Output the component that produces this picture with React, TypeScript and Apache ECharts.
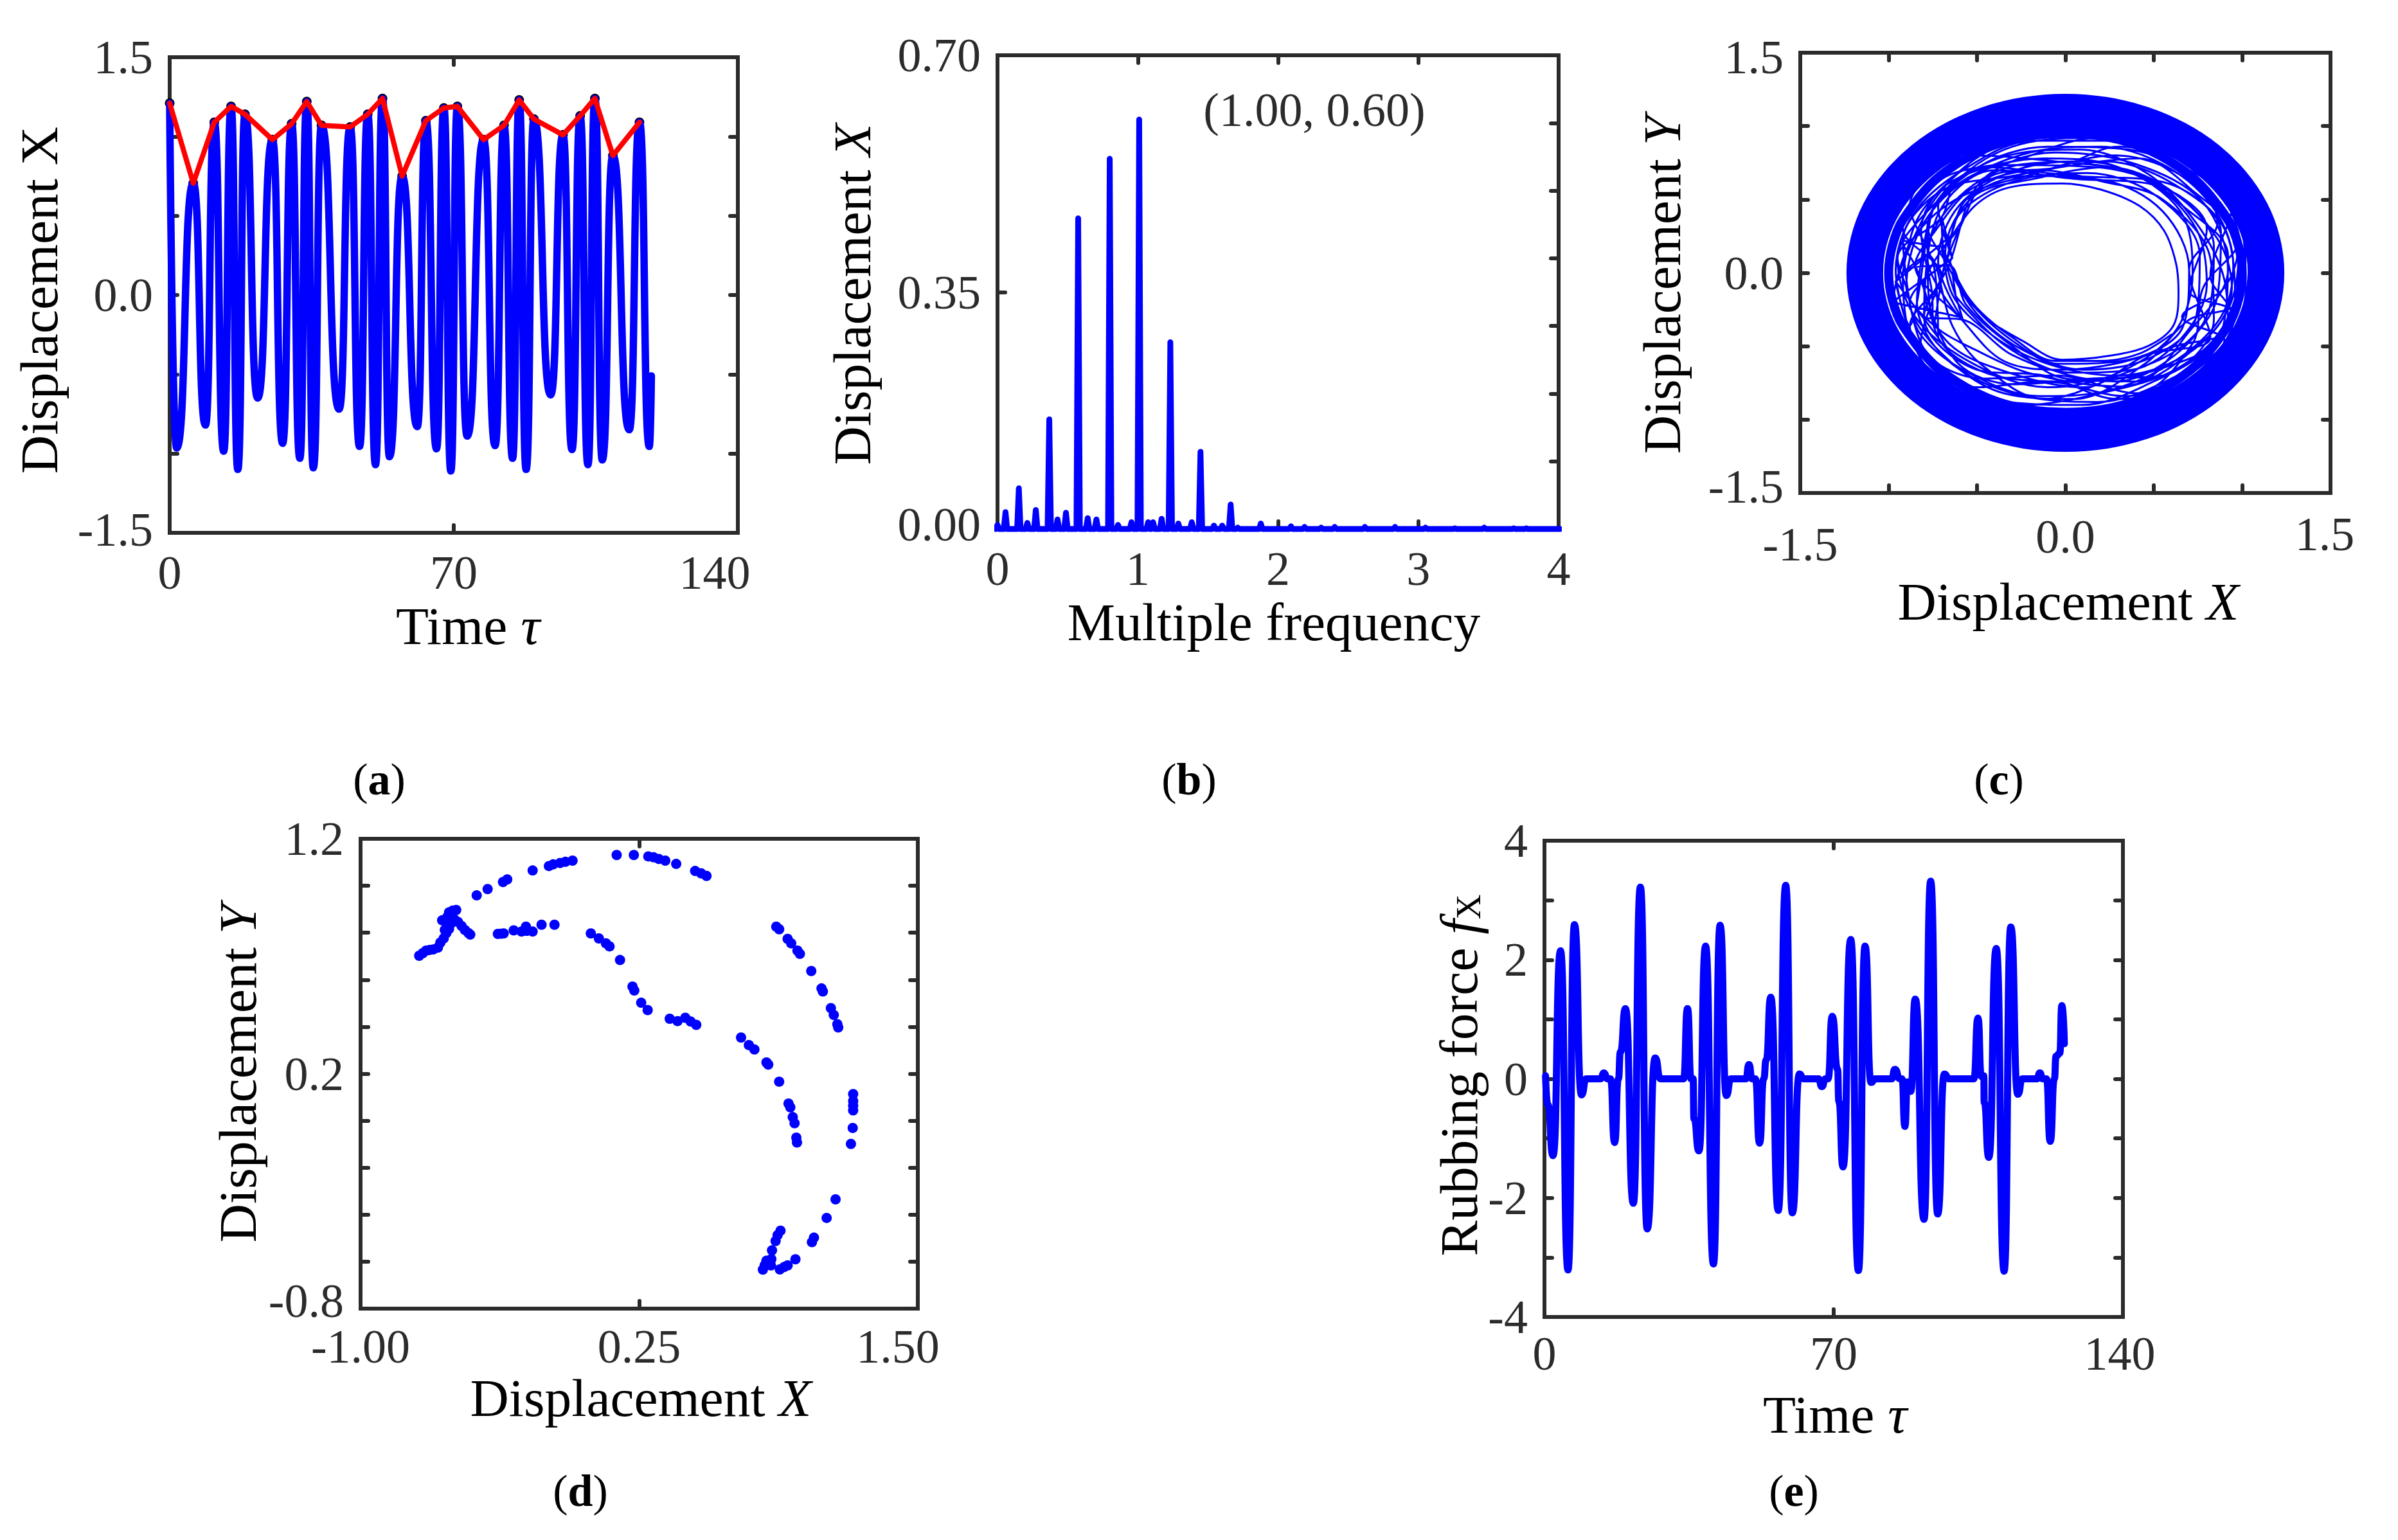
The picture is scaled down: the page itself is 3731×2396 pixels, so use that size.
import { useEffect, useRef } from 'react'
import * as echarts from 'echarts'

const SERIF = '"Liberation Serif", serif'
const INK = '#2b2b2b'
const BLUE = '#0000ff'

// (a) time history
const timeA = [0, 1.71, 5.81, 8.81, 10.99, 13.31, 15.13, 16.79, 18.55, 21.68, 25.31, 27.83, 30.05, 32.07, 33.78, 35.39, 37.41, 41.75, 44.47, 46.79, 48.8, 50.72, 52.44, 54.15, 57.28, 61.01, 63.13, 65.75, 67.56, 69.28, 70.89, 73.31, 77.34, 80.17, 82.39, 84.5, 86.12, 87.83, 89.75, 93.88, 96.91, 99.13, 101.14, 103.06, 104.77, 106.59, 109.21, 113.24, 115.76, 118.18, 118.69]
const dispA = [1.21, -0.965, 0.705, -0.82, 1.09, -0.985, 1.19, -1.1, 1.14, -0.65, 0.98, -0.935, 1.08, -1.03, 1.22, -1.09, 1.07, -0.72, 1.06, -0.955, 1.14, -1.07, 1.24, -1.02, 0.75, -0.83, 1.1, -0.97, 1.18, -1.11, 1.19, -0.89, 0.98, -0.95, 1.07, -1.03, 1.23, -1.1, 1.11, -0.63, 1.01, -0.975, 1.13, -1.07, 1.24, -1.04, 0.88, -0.85, 1.09, -0.955, -0.51]
const peakTimeA = [0, 5.81, 10.99, 15.13, 18.55, 25.31, 30.05, 33.78, 37.41, 44.47, 48.8, 52.44, 57.28, 63.13, 67.56, 70.89, 77.34, 82.39, 86.12, 89.75, 96.91, 101.14, 104.77, 109.21, 115.76]
const peakDispA = [1.21, 0.705, 1.09, 1.19, 1.14, 0.98, 1.08, 1.22, 1.07, 1.06, 1.14, 1.24, 0.75, 1.1, 1.18, 1.19, 0.98, 1.07, 1.23, 1.11, 1.01, 1.13, 1.24, 0.88, 1.09]

// (b) spectrum peaks
const peakFreqB = [0.0, 0.057, 0.152, 0.213, 0.273, 0.369, 0.428, 0.488, 0.575, 0.643, 0.705, 0.8, 0.859, 0.955, 1.01, 1.074, 1.109, 1.17, 1.232, 1.289, 1.385, 1.447, 1.543, 1.602, 1.662, 1.713, 1.877, 2.092, 2.189, 2.307, 2.404, 2.619, 2.834, 3.051, 3.26, 3.47, 3.68, 3.77, 4.0]
const peakAmpB = [0.006, 0.025, 0.06, 0.009, 0.028, 0.162, 0.014, 0.024, 0.459, 0.016, 0.014, 0.547, 0.006, 0.01, 0.605, 0.01, 0.01, 0.015, 0.276, 0.008, 0.01, 0.114, 0.005, 0.005, 0.036, 0.002, 0.008, 0.004, 0.003, 0.002, 0.003, 0.003, 0.003, 0.002, 0.001, 0.002, 0.001, 0.001, 0.0]

// (c) orbit, a heavy outer band and the strands read inside it
const orbitBand = [[1.049, -0.419], [1.113, -0.214], [1.135, 0], [1.113, 0.214], [1.049, 0.419], [0.943, 0.609], [0.803, 0.774], [0.631, 0.91], [0.434, 1.012], [0.221, 1.074], [0, 1.095], [-0.221, 1.074], [-0.434, 1.012], [-0.631, 0.91], [-0.803, 0.774], [-0.943, 0.609], [-1.049, 0.419], [-1.113, 0.214], [-1.135, 0], [-1.113, -0.214], [-1.049, -0.419], [-0.943, -0.609], [-0.803, -0.774], [-0.631, -0.91], [-0.434, -1.012], [-0.221, -1.074], [0, -1.095], [0.221, -1.074], [0.434, -1.012], [0.631, -0.91], [0.803, -0.774], [0.943, -0.609], [1.049, -0.419], [1.113, -0.214], [1.135, 0]]
const orbitBandInner = [[0.92, -0.36], [0.98, -0.18], [1.0, 0], [0.98, 0.18], [0.92, 0.36], [0.71, 0.66], [0.38, 0.88], [0, 0.95], [-0.38, 0.88], [-0.71, 0.66], [-0.92, 0.36], [-0.98, 0.18], [-1.0, 0], [-0.98, -0.18], [-0.92, -0.36], [-0.71, -0.66], [-0.38, -0.88], [0, -0.95], [0.38, -0.88], [0.71, -0.66], [0.92, -0.36], [0.98, -0.18], [1.0, 0]]
const orbitPath = [
  [-0.665, 0.204], [-0.514, 0.455], [-0.321, 0.581], [-0.019, 0.609], [0.201, 0.567], [0.42, 0.455], [0.558, 0.288], [0.626, 0.064], [0.64, -0.131], [0.613, -0.355], [0.475, -0.494], [0.255, -0.564], [-0.019, -0.592], [-0.239, -0.466], [-0.459, -0.299], [-0.596, -0.103], [-0.665, 0.092],
  [-0.747, -0.355], [-0.755, -0.13], [-0.816, 0.288], [-0.679, 0.595], [-0.294, 0.735], [0.173, 0.72], [0.585, 0.567], [0.86, 0.232], [0.942, -0.103], [0.805, -0.439], [0.31, -0.774], [-0.184, -0.69], [-0.514, -0.522], [-0.747, -0.355],
  [-0.9, -0.1], [-0.82, 0.3], [-0.58, 0.62], [-0.2, 0.82], [0.2, 0.86], [0.58, 0.72], [0.85, 0.42], [0.95, 0.05], [0.88, -0.3], [0.62, -0.6], [0.25, -0.8], [-0.15, -0.84], [-0.55, -0.68], [-0.82, -0.42], [-0.9, -0.1],
  [-0.95, 0.1], [-0.78, 0.42], [-0.5, 0.68], [-0.12, 0.78], [0.3, 0.72], [0.65, 0.42], [0.72, 0.0], [0.62, -0.4], [0.3, -0.68], [-0.1, -0.78], [-0.52, -0.62], [-0.85, -0.3], [-0.95, 0.1],
  [-0.7, 0.38], [-0.62, 0.62], [-0.3, 0.86], [0.12, 0.92], [0.52, 0.8], [0.82, 0.5], [0.98, 0.15], [0.92, -0.25], [0.68, -0.56], [0.3, -0.7], [-0.1, -0.62], [-0.42, -0.42], [-0.65, -0.12], [-0.7, 0.38],
  [-0.64, 0.1], [-0.72, 0.45], [-0.45, 0.72], [0.05, 0.66], [0.55, 0.62], [0.9, 0.3], [0.96, -0.2], [0.7, -0.32], [0.45, -0.62], [0.05, -0.86], [-0.35, -0.82], [-0.7, -0.55], [-0.88, -0.2], [-0.64, 0.1],
  [-0.98, -0.2], [-0.88, 0.2], [-0.62, 0.5], [-0.22, 0.66], [0.28, 0.8], [0.66, 0.66], [0.92, 0.32], [1.0, -0.1], [0.82, -0.5], [0.5, -0.74], [0.1, -0.9], [-0.32, -0.88], [-0.72, -0.68], [-0.98, -0.2],
  [-0.6, -0.3], [-0.78, 0.1], [-0.72, 0.5], [-0.38, 0.78], [0.08, 0.84], [0.46, 0.68], [0.74, 0.34], [0.9, -0.05], [0.92, -0.38], [0.62, -0.5], [0.28, -0.62], [-0.02, -0.66], [-0.35, -0.6], [-0.6, -0.3],
  [-0.85, 0.05], [-0.74, 0.28], [-0.52, 0.58], [-0.15, 0.7], [0.22, 0.62], [0.55, 0.5], [0.82, 0.1], [0.84, -0.32], [0.55, -0.7], [0.15, -0.72], [-0.28, -0.76], [-0.62, -0.6], [-0.85, 0.05],
  [-0.92, 0.22], [-0.7, 0.56], [-0.3, 0.66], [0.08, 0.74], [0.42, 0.78], [0.72, 0.56], [0.98, 0.22], [0.78, -0.1], [0.72, -0.48], [0.4, -0.82], [-0.05, -0.7], [-0.46, -0.72], [-0.8, -0.52], [-0.92, 0.22],
  [-0.7, 0.18], [-0.56, 0.5], [-0.22, 0.66], [0.22, 0.63], [0.55, 0.42], [0.7, 0.02], [0.66, -0.38], [0.32, -0.6], [-0.04, -0.62], [-0.28, -0.48], [-0.52, -0.22], [-0.7, 0.18],
  [-0.68, 0.08], [-0.6, 0.4], [-0.3, 0.62], [0.12, 0.68], [0.52, 0.52], [0.76, 0.12], [0.74, -0.3], [0.48, -0.58], [0.1, -0.66], [-0.25, -0.52], [-0.5, -0.28], [-0.68, 0.08],
  [-0.78, 0.32], [-0.52, 0.7], [-0.1, 0.86], [0.36, 0.84], [0.76, 0.62], [0.98, 0.2], [0.9, -0.1], [0.66, -0.3], [0.9, -0.46], [0.6, -0.72], [0.18, -0.88], [-0.3, -0.82], [-0.68, -0.58], [-0.84, -0.2], [-0.78, 0.32],
  [-0.88, -0.36], [-0.96, 0.02], [-0.86, 0.4], [-0.58, 0.7], [-0.18, 0.9], [0.26, 0.9], [0.64, 0.78], [0.9, 0.5], [1.0, 0.08], [0.9, -0.36], [0.62, -0.66], [0.2, -0.82], [-0.24, -0.9], [-0.62, -0.76], [-0.88, -0.36],
  [-0.7, -0.02], [-0.92, 0.3], [-0.7, 0.64], [-0.3, 0.76], [0.18, 0.92], [0.6, 0.76], [0.94, 0.44], [0.82, -0.02], [0.94, -0.28], [0.72, -0.66], [0.34, -0.84], [-0.12, -0.74], [-0.5, -0.78], [-0.82, -0.5], [-0.7, -0.02],
  [-0.6, 0.3], [-0.42, 0.66], [-0.04, 0.72], [0.3, 0.86], [0.7, 0.7], [0.86, 0.34], [0.7, 0.02], [0.82, -0.44], [0.46, -0.56], [0.1, -0.78], [-0.32, -0.68], [-0.66, -0.48], [-0.8, -0.1], [-0.6, 0.3],
  [-0.96, -0.06], [-0.74, 0.5], [-0.42, 0.84], [0.02, 0.96], [0.46, 0.9], [0.8, 0.66], [1.0, 0.3], [1.02, -0.12], [0.84, -0.56], [0.46, -0.82], [0, -0.96], [-0.46, -0.9], [-0.8, -0.62], [-0.96, -0.06],
  [-0.72, -0.44], [-0.74, 0.02], [-0.88, 0.46], [-0.52, 0.8], [-0.06, 0.76], [0.4, 0.68], [0.66, 0.46], [0.92, 0.12], [0.88, -0.42], [0.52, -0.66], [0.08, -0.74], [-0.32, -0.72], [-0.72, -0.44],
  [-0.78, 0.12], [-0.6, 0.52], [-0.24, 0.74], [0.22, 0.76], [0.62, 0.6], [0.88, 0.28], [0.86, -0.16], [0.66, -0.5], [0.3, -0.7], [-0.12, -0.86], [-0.48, -0.62], [-0.64, -0.36], [-0.78, 0.12],
  [-0.92, 0.0], [-0.84, 0.36], [-0.66, 0.62], [-0.32, 0.92], [0.14, 0.98], [0.56, 0.86], [0.86, 0.6], [1.02, 0.14], [0.96, -0.3], [0.74, -0.62], [0.36, -0.92], [-0.12, -0.94], [-0.54, -0.84], [-0.86, -0.48], [-0.92, 0],
  [-0.66, 0.05], [-0.56, -0.22], [-0.3, -0.5], [0.0, -0.72], [0.4, -0.74], [0.7, -0.4], [0.92, 0.02], [0.78, 0.48], [0.4, 0.74], [-0.06, 0.82], [-0.48, 0.62], [-0.66, 0.05],
  [-0.8, -0.3], [-0.5, -0.66], [-0.12, -0.7], [0.3, -0.86], [0.72, -0.72], [0.96, -0.28], [0.7, -0.12], [0.8, 0.3], [0.5, 0.6], [0.05, 0.64], [-0.4, 0.7], [-0.72, 0.4], [-0.8, -0.3],
  [-0.58, -0.32], [-0.3, -0.56], [0.04, -0.68], [0.38, -0.66], [0.66, -0.44], [0.8, -0.08], [0.74, 0.3], [0.48, 0.62], [0.1, 0.76], [-0.28, 0.7], [-0.6, 0.46], [-0.72, 0.08], [-0.58, -0.32],
  [-0.62, -0.16], [-0.38, -0.46], [-0.08, -0.66], [0.28, -0.74], [0.62, -0.56], [0.82, -0.22], [0.84, 0.18], [0.62, 0.54], [0.24, 0.72], [-0.18, 0.64], [-0.52, 0.52], [-0.68, 0.14], [-0.62, -0.16],
  [-0.64, 0.0], [-0.5, -0.24], [-0.3, -0.44], [-0.06, -0.6], [0.2, -0.6], [0.42, -0.55], [0.6, -0.42],
]

// (d) Poincare points
const poincareX = [-0.737, -0.721, -0.706, -0.69, -0.674, -0.653, -0.642, -0.627, -0.615, -0.603, -0.622, -0.619, -0.634, -0.611, -0.603, -0.587, -0.571, -0.595, -0.579, -0.563, -0.547, -0.532, -0.516, -0.508, -0.479, -0.43, -0.361, -0.342, -0.228, -0.155, -0.136, -0.105, -0.081, -0.049, 0.149, 0.226, 0.291, 0.315, 0.338, 0.367, 0.416, 0.501, 0.528, 0.552, -0.384, -0.369, -0.358, -0.313, -0.278, -0.258, -0.255, -0.228, -0.188, -0.13, 0.033, 0.069, 0.101, 0.117, 0.164, 0.22, 0.228, 0.259, 0.288, 0.387, 0.422, 0.457, 0.481, 0.506, 0.707, 0.742, 0.767, 0.821, 0.829, 0.878, 0.92, 0.928, 0.939, 0.947, 0.955, 0.958, 0.865, 0.878, 0.916, 0.932, 0.96, 0.971, 1.022, 1.068, 1.074, 1.11, 1.123, 1.139, 1.143, 1.21, 1.21, 1.21, 1.21, 1.208, 1.2, 1.131, 1.091, 1.034, 1.025, 0.951, 0.884, 0.871, 0.862, 0.846, 0.843, 0.841, 0.821, 0.813, 0.805, 0.881, 0.9, 0.916]
const poincareY = [0.702, 0.713, 0.724, 0.727, 0.729, 0.737, 0.758, 0.776, 0.799, 0.816, 0.812, 0.846, 0.853, 0.867, 0.887, 0.894, 0.897, 0.839, 0.857, 0.846, 0.829, 0.812, 0.799, 0.792, 0.959, 0.986, 1.016, 1.027, 1.065, 1.084, 1.091, 1.097, 1.102, 1.107, 1.131, 1.131, 1.125, 1.121, 1.114, 1.107, 1.093, 1.063, 1.053, 1.042, 0.795, 0.796, 0.797, 0.81, 0.805, 0.826, 0.808, 0.805, 0.834, 0.834, 0.797, 0.776, 0.755, 0.742, 0.684, 0.571, 0.554, 0.502, 0.471, 0.434, 0.424, 0.438, 0.422, 0.408, 0.354, 0.322, 0.303, 0.248, 0.239, 0.166, 0.073, 0.057, 0.015, -0.011, -0.072, -0.093, 0.826, 0.815, 0.774, 0.755, 0.724, 0.71, 0.637, 0.563, 0.55, 0.479, 0.45, 0.411, 0.397, 0.113, 0.084, 0.064, 0.044, -0.031, -0.099, -0.335, -0.414, -0.498, -0.517, -0.59, -0.468, -0.487, -0.512, -0.552, -0.589, -0.616, -0.596, -0.616, -0.634, -0.633, -0.623, -0.616]

// (e) rubbing force
const timeE = [0.26, 0.8, 2.07, 3.89, 5.7, 7.26, 8.96, 10.11, 13.57, 14.37, 15.28, 15.98, 16.98, 17.89, 18.39, 19.6, 21.51, 23.22, 24.87, 26.79, 28.09, 33.67, 34.62, 35.48, 35.98, 36.18, 37.39, 38.99, 40.9, 42.51, 44.02, 45.12, 48.74, 49.5, 50.25, 51.05, 52.06, 53.06, 53.67, 54.77, 56.58, 58.39, 59.99, 61.71, 62.71, 66.33, 67.13, 68.04, 68.64, 69.65, 70.95, 71.25, 72.26, 74.12, 75.98, 77.59, 79.04, 80.1, 84.02, 84.82, 86.03, 86.53, 87.23, 87.84, 88.64, 89.75, 91.86, 93.47, 95.17, 96.78, 97.99, 103.92, 104.92, 105.73, 106.33, 106.43, 107.54, 109.34, 111.25, 112.86, 114.57, 115.68, 119.19, 119.9, 120.6, 121.5, 122.41, 123.41, 123.82, 124.72, 125.22, 125.83]
const forceE = [0.05, -0.43, -1.29, 2.15, -3.21, 2.59, -0.27, 0, 0, 0.1, 0, 0, -1.07, 0, 0.45, 1.18, -2.09, 3.22, -2.52, 0.35, 0, 0, 1.18, 0, 0, -0.67, -1.21, 2.23, -3.11, 2.58, -0.28, 0, 0, 0.24, 0, 0, -1.08, 0, 0.32, 1.37, -2.21, 3.25, -2.25, 0.08, 0, 0, -0.13, 0, 0, 1.05, 0.16, -0.38, -1.48, 2.34, -3.22, 2.23, -0.06, 0, 0, 0.16, 0, 0, -0.8, -0.05, -0.21, 1.34, -2.36, 3.32, -2.27, 0.08, 0, 0, 1.02, 0.04, 0.05, -0.4, -1.32, 2.19, -3.23, 2.55, -0.26, 0, 0, 0.1, 0, 0, -1.05, 0, 0.38, 0.43, 1.23, 0.59]

const labelsA = { x: ['0', '70', '140'], y: ['-1.5', '0.0', '1.5'] }
const labelsB = { x: ['0', '1', '2', '3', '4'], y: ['0.00', '0.35', '0.70'] }
const labelsC = { x: ['-1.5', '0.0', '1.5'], y: ['-1.5', '0.0', '1.5'] }
const labelsD = { x: ['-1.00', '0.25', '1.50'], y: ['-0.8', '0.2', '1.2'] }
const labelsE = { x: ['0', '70', '140'], y: ['-4', '-2', '0', '2', '4'] }

const pairs = (xs: number[], ys: number[]) => xs.map((x, i) => [x, ys[i]])

// spikes of the spectrum, each one standing on the baseline
const spectrumB = peakFreqB.flatMap((f, i) => [[f - 0.012, 0], [f, peakAmpB[i]], [f + 0.012, 0]])

interface AxisSpec {
  min: number
  max: number
  interval: number
  mirror?: number
  labels: string[]
  margin?: number
  nudge?: Record<string, [number, number]> // label moved by [dx, dy], the source figure does not centre them all
}

function makeAxes(gridIndex: number, dim: 'x' | 'y', a: AxisSpec) {
  const frame = { show: true, onZero: false, lineStyle: { color: INK, width: 6, cap: 'square' } }
  const tickStyle = { show: true, inside: true, length: 12, lineStyle: { color: INK, width: 6, cap: 'round' } }
  const font = { color: INK, fontFamily: SERIF, fontSize: 74 }
  const digits = (a.labels[1].split('.')[1] || '').length
  const rich: Record<string, any> = {}
  a.labels.forEach((l, i) => {
    const n = a.nudge?.[l]
    if (!n) return
    rich['n' + i] = { ...font, padding: [n[1] > 0 ? n[1] * 2 : 0, n[0] < 0 ? -n[0] * 2 : 0, n[1] < 0 ? -n[1] * 2 : 0, n[0] > 0 ? n[0] * 2 : 0] }
  })
  return [
    {
      type: 'value',
      gridIndex,
      position: dim === 'x' ? 'bottom' : 'left',
      min: a.min,
      max: a.max,
      interval: a.interval,
      splitLine: { show: false },
      axisLine: frame,
      axisTick: tickStyle,
      axisLabel: {
        ...font,
        margin: a.margin ?? (dim === 'x' ? 20 : 26),
        hideOverlap: false,
        rich,
        formatter: (v: number) => {
          const s = v.toFixed(digits)
          const i = a.labels.indexOf(s)
          if (i < 0) return ''
          return rich['n' + i] ? `{n${i}|${s}}` : s
        },
      },
    },
    {
      type: 'value',
      gridIndex,
      position: dim === 'x' ? 'top' : 'right',
      min: a.min,
      max: a.max,
      interval: a.mirror ?? a.interval,
      splitLine: { show: false },
      axisLine: frame,
      axisTick: tickStyle,
      axisLabel: { show: false },
    },
  ]
}

const nameRich = {
  r: { fontFamily: SERIF, fontSize: 83.5, color: '#1c1c1c' },
  i: { fontFamily: SERIF, fontSize: 83.5, fontStyle: 'italic', color: '#1c1c1c' },
  s: { fontFamily: SERIF, fontSize: 54, color: '#1c1c1c', verticalAlign: 'bottom' },
  b: { fontFamily: SERIF, fontSize: 70, fontWeight: 'bold', color: '#1c1c1c' },
  p: { fontFamily: SERIF, fontSize: 70, color: '#1c1c1c' },
}

const nameText = (text: string, x: number, y: number, vertical = false) => ({
  type: 'text',
  x,
  y,
  rotation: vertical ? Math.PI / 2 : 0,
  style: { text, rich: nameRich, align: 'center', verticalAlign: 'middle' },
})

const line = (xAxisIndex: number, yAxisIndex: number, data: number[][], width: number, color = BLUE, smooth: any = false) => ({
  type: 'line',
  xAxisIndex,
  yAxisIndex,
  data,
  symbol: 'none',
  clip: false,
  smooth,
  lineStyle: { color, width, cap: 'round', join: 'round' },
})

export default function App() {
  const elRef = useRef<HTMLDivElement>(null)

  useEffect(() => {
    if (!elRef.current) return
    const chart = echarts.init(elRef.current, undefined, { renderer: 'svg' })
    chart.setOption({
      animation: false,
      backgroundColor: '#ffffff',
      grid: [
        { left: 264, top: 89, width: 884, height: 740 },
        { left: 1552, top: 86, width: 873, height: 737 },
        { left: 2801, top: 82, width: 825, height: 685 },
        { left: 561, top: 1305, width: 867, height: 731 },
        { left: 2403, top: 1308, width: 900, height: 741 },
      ],
      xAxis: [
        ...makeAxes(0, 'x', { min: 0, max: 140, interval: 70, labels: labelsA.x, margin: 25, nudge: { '140': [-36, 0] } }),
        ...makeAxes(1, 'x', { min: 0, max: 4, interval: 1, labels: labelsB.x, margin: 25 }),
        ...makeAxes(2, 'x', { min: -1.5, max: 1.5, interval: 0.5, labels: labelsC.x, margin: 27, nudge: { '-1.5': [0, 8], '0.0': [0, 2], '1.5': [-9, 0] } }),
        ...makeAxes(3, 'x', { min: -1, max: 1.5, interval: 1.25, labels: labelsD.x, margin: 22, nudge: { '1.50': [-31, 0] } }),
        ...makeAxes(4, 'x', { min: 0, max: 140, interval: 70, labels: labelsE.x, nudge: { '140': [-5, 0] } }),
      ],
      yAxis: [
        ...makeAxes(0, 'y', { min: -1.5, max: 1.5, interval: 0.5, labels: labelsA.y, nudge: { '-1.5': [0, -5] } }),
        ...makeAxes(1, 'y', { min: 0, max: 0.7, interval: 0.35, mirror: 0.1, labels: labelsB.y, nudge: { '0.00': [0, -7] } }),
        ...makeAxes(2, 'y', { min: -1.5, max: 1.5, interval: 0.5, labels: labelsC.y, nudge: { '-1.5': [0, -10], '1.5': [0, 7] } }),
        ...makeAxes(3, 'y', { min: -0.8, max: 1.2, interval: 0.2, labels: labelsD.y, nudge: { '-0.8': [0, -12] } }),
        ...makeAxes(4, 'y', { min: -4, max: 4, interval: 1, labels: labelsE.y }),
      ],
      series: [
        { ...line(0, 0, pairs(timeA, dispA), 11.5, BLUE, 0.6), smoothMonotone: 'x' },
        {
          type: 'scatter',
          xAxisIndex: 0,
          yAxisIndex: 0,
          data: pairs(peakTimeA, peakDispA),
          symbolSize: 15,
          clip: false,
          itemStyle: { color: '#000000', opacity: 1 },
        },
        line(0, 0, pairs(peakTimeA, peakDispA), 8, '#ff0000'),
        line(2, 2, spectrumB, 9),
        line(4, 4, orbitBand, 57, BLUE, 0.34),
        line(4, 4, orbitBandInner, 14, BLUE, 0.34),
        line(4, 4, orbitPath, 3, BLUE, 0.34),
        {
          type: 'scatter',
          xAxisIndex: 6,
          yAxisIndex: 6,
          data: pairs(poincareX, poincareY),
          symbolSize: 16,
          clip: false,
          itemStyle: { color: BLUE, opacity: 1 },
        },
        { ...line(8, 8, pairs(timeE, forceE), 11, BLUE, 0.6), smoothMonotone: 'x' },
      ],
      graphic: [
        nameText('{r|Time }{i|τ}', 728, 974),
        nameText('{r|Displacement X}', 61, 467, true),
        nameText('{r|Multiple frequency}', 1982, 968),
        nameText('{r|Displacement }{i|X}', 1326, 458, true),
        nameText('{r|Displacement }{i|X}', 3218, 936),
        nameText('{r|Displacement }{i|Y}', 2586, 443, true),
        nameText('{r|Displacement }{i|X}', 997, 2175),
        nameText('{r|Displacement }{i|Y}', 370, 1670, true),
        nameText('{r|Time }{i|τ}', 2855, 2201),
        nameText('{r|Rubbing force }{i|f}{s|X}', 2270, 1673, true),
        {
          type: 'text',
          x: 2045,
          y: 171,
          style: { text: '(1.00, 0.60)', fontFamily: SERIF, fontSize: 74, fill: INK, align: 'center', verticalAlign: 'middle' },
        },
        nameText('{p|(}{b|a}{p|)}', 590, 1212),
        nameText('{p|(}{b|b}{p|)}', 1850, 1212),
        nameText('{p|(}{b|c}{p|)}', 3110, 1212),
        nameText('{p|(}{b|d}{p|)}', 903, 2319),
        nameText('{p|(}{b|e}{p|)}', 2791, 2319),
      ],
    })
    return () => chart.dispose()
  }, [])

  return <div ref={elRef} style={{ position: 'absolute', left: 0, top: 0, width: 3731, height: 2396 }} />
}
